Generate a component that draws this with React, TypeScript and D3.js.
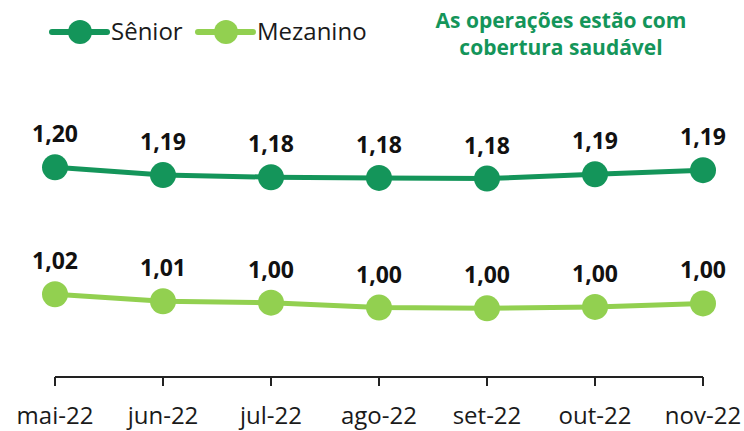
import * as d3 from 'd3';
import React from 'react';

const months = ['mai-22', 'jun-22', 'jul-22', 'ago-22', 'set-22', 'out-22', 'nov-22'];
const senior = [1.196, 1.185, 1.182, 1.181, 1.18, 1.186, 1.192];
const mezanino = [1.016, 1.006, 1.004, 0.997, 0.996, 0.998, 1.003];
const note = ['As operações estão com', 'cobertura saudável'];

const DARK = '#14955a';
const LIGHT = '#92d050';
const FONT = '"Open Sans", sans-serif';

export default function App() {
  const width = 744;
  const height = 431;

  const x = d3.scalePoint<string>().domain(months).range([55, 703]);
  const y = d3.scaleLinear().domain([0.9, 1.3]).range([376, 94]);
  const line = d3
    .line<number>()
    .x((_, i) => x(months[i]) ?? 0)
    .y(d => y(d));
  const fmt = (v: number) => d3.format('.2f')(v + 1e-9).replace('.', ',');

  const series = [
    { name: 'Sênior', values: senior, color: DARK, lx: 52 },
    { name: 'Mezanino', values: mezanino, color: LIGHT, lx: 198 },
  ];
  const axisY = 377;

  return (
    <svg
      width={width}
      height={height}
      style={{ position: 'absolute', left: 0, top: 0, background: '#fff' }}
      fontFamily={FONT}
    >
      {/* legend */}
      {series.map(s => (
        <g key={s.name}>
          <line x1={s.lx} x2={s.lx + 55} y1={32} y2={32} stroke={s.color} strokeWidth={6} strokeLinecap="round" />
          <circle cx={s.lx + 28} cy={32} r={12} fill={s.color} />
          <text x={s.lx + 59} y={40} fontSize={24} fill="#1a1a1a">
            {s.name}
          </text>
        </g>
      ))}

      {/* note */}
      {note.map((t, i) => (
        <text key={t} x={561} y={28 + i * 27} textAnchor="middle" fontSize={21} fontWeight={700} fill={DARK}>
          {t}
        </text>
      ))}

      {/* axis */}
      <line x1={x(months[0])} x2={x(months[months.length - 1])} y1={axisY} y2={axisY} stroke="#222" strokeWidth={2} />
      {months.map(m => (
        <g key={m}>
          <line x1={x(m)} x2={x(m)} y1={axisY} y2={axisY + 9} stroke="#222" strokeWidth={2} />
          <text x={x(m)} y={424} textAnchor="middle" fontSize={24} fill="#1a1a1a">
            {m}
          </text>
        </g>
      ))}

      {/* lines */}
      {series.map(s => (
        <g key={s.name}>
          <path d={line(s.values) ?? ''} fill="none" stroke={s.color} strokeWidth={5} />
          {s.values.map((v, i) => (
            <g key={i}>
              <circle cx={x(months[i])} cy={y(v)} r={13} fill={s.color} />
              <text x={x(months[i])} y={y(v) - 25} textAnchor="middle" fontSize={23} fontWeight={700} fill="#111">
                {fmt(v)}
              </text>
            </g>
          ))}
        </g>
      ))}
    </svg>
  );
}
